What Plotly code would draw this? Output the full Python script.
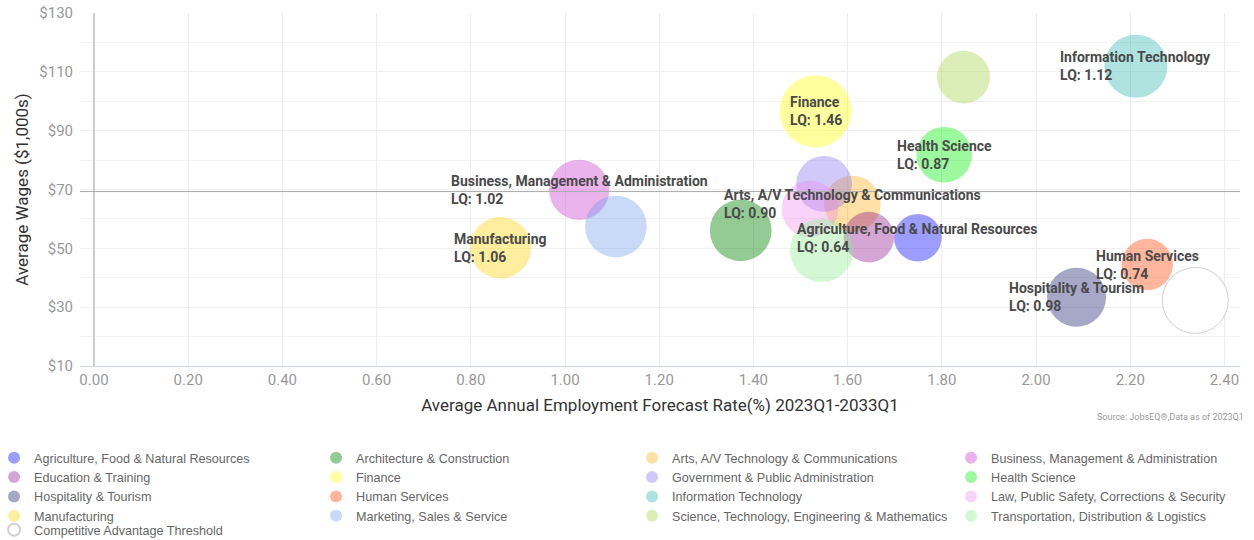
import plotly.graph_objects as go

clusters = [
    "Agriculture, Food & Natural Resources", "Architecture & Construction",
    "Arts, A/V Technology & Communications", "Business, Management & Administration",
    "Education & Training", "Finance", "Government & Public Administration",
    "Health Science", "Hospitality & Tourism", "Human Services",
    "Information Technology", "Law, Public Safety, Corrections & Security",
    "Manufacturing", "Marketing, Sales & Service",
    "Science, Technology, Engineering & Mathematics",
    "Transportation, Distribution & Logistics",
]
forecast_rate = [1.749, 1.373, 1.610, 1.030, 1.645, 1.532, 1.550, 1.805, 2.086, 2.236,
                 2.212, 1.520, 0.863, 1.108, 1.846, 1.545]
avg_wages = [53.6, 56.1, 65.1, 69.9, 53.8, 96.6, 71.9, 81.8, 33.4, 44.5,
             111.9, 63.4, 50.2, 57.4, 108.2, 49.3]
lq = [0.64, 1.07, 0.90, 1.02, 0.72, 1.46, 0.88, 0.87, 0.98, 0.74,
      1.12, 0.90, 1.06, 1.07, 0.79, 1.13]
show_label = [True, False, True, True, False, True, False, True, True, True,
              True, False, True, False, False, False]

threshold_name = "Competitive Advantage Threshold"
threshold_x = 2.338
threshold_y = 32.3
wage_threshold = 69.3
rate_threshold = 0.0

y_ticks = [10, 30, 50, 70, 90, 110, 130]
y_tick_labels = ["$10", "$30", "$50", "$70", "$90", "$110", "$130"]
x_ticks = [0.0, 0.2, 0.4, 0.6, 0.8, 1.0, 1.2, 1.4, 1.6, 1.8, 2.0, 2.2, 2.4]

colors = [
    "rgba(0,0,255,0.55)", "rgba(0,128,0,0.6)", "rgba(255,165,0,0.5)",
    "rgba(210,80,210,0.62)", "rgba(128,0,128,0.5)", "rgba(255,255,0,0.55)",
    "rgba(123,104,238,0.5)", "rgba(0,240,0,0.55)", "rgba(25,25,112,0.55)",
    "rgba(255,80,20,0.6)", "rgba(32,178,170,0.52)", "rgba(238,130,238,0.5)",
    "rgba(255,210,0,0.55)", "rgba(100,149,237,0.5)", "rgba(154,205,50,0.5)",
    "rgba(144,238,144,0.55)",
]

SIZEREF = 0.000563
FONT = "Roboto, Arial, sans-serif"
N_LEGEND_COLS = 4

fig = go.Figure()
for i, name in enumerate(clusters):
    fig.add_trace(go.Scatter(
        x=[forecast_rate[i]], y=[avg_wages[i]], mode="markers", name=name,
        legend="legend" if i % N_LEGEND_COLS == 0 else f"legend{i % N_LEGEND_COLS + 1}",
        marker=dict(size=[lq[i]], sizemode="area", sizeref=SIZEREF,
                    color=colors[i], line=dict(width=0)),
        hovertemplate=f"{name}<br>LQ: {lq[i]:.2f}<extra></extra>",
    ))

fig.add_trace(go.Scatter(
    x=[threshold_x], y=[threshold_y], mode="markers", name=threshold_name,
    legend="legend5",
    marker=dict(size=66, color="rgba(255,255,255,1)", line=dict(width=1, color="#d0d0d0")),
))

annotations = []
for i, name in enumerate(clusters):
    if show_label[i]:
        annotations.append(dict(
            x=forecast_rate[i], y=avg_wages[i], xref="x", yref="y",
            text=f"{name}<br>LQ: {lq[i]:.2f}", showarrow=False,
            xanchor="center", yanchor="middle", align="left",
            font=dict(family=FONT, size=14, color="#4a4a4a", weight="bold"),
        ))
annotations.append(dict(
    x=1.005, y=-0.145, xref="paper", yref="paper", xanchor="right", yanchor="middle",
    text="Source: JobsEQ®,Data as of 2023Q1", showarrow=False,
    font=dict(family=FONT, size=9, color="#999999"),
))

shapes = [
    dict(type="line", xref="x", yref="paper", x0=rate_threshold, x1=rate_threshold,
         y0=0, y1=1, line=dict(color="#cccccc", width=2), layer="above"),
    dict(type="line", xref="paper", yref="y", x0=0, x1=1,
         y0=wage_threshold, y1=wage_threshold, line=dict(color="#aaaaaa", width=1),
         layer="above"),
]

legend_font = dict(family="Liberation Sans, Arial, sans-serif", size=12.6, color="#666666")
legend_x = [-0.0741, 0.2035, 0.4759, 0.7509]
legend_common = dict(orientation="v", xanchor="left", yanchor="top",
                     itemsizing="constant", font=legend_font, traceorder="normal",
                     bgcolor="rgba(0,0,0,0)")

fig.update_layout(
    width=1254, height=540,
    margin=dict(l=80, r=14, t=13, b=174, autoexpand=False),
    paper_bgcolor="white", plot_bgcolor="white",
    font=dict(family=FONT),
    showlegend=True,
    legend=dict(x=legend_x[0], y=-0.2181, **legend_common),
    legend2=dict(x=legend_x[1], y=-0.2181, **legend_common),
    legend3=dict(x=legend_x[2], y=-0.2181, **legend_common),
    legend4=dict(x=legend_x[3], y=-0.2181, **legend_common),
    legend5=dict(x=legend_x[0], y=-0.4221, **legend_common),
    annotations=annotations,
    shapes=shapes,
    xaxis=dict(
        range=[-0.0297, 2.433], tickvals=x_ticks, tickformat=".2f",
        showgrid=True, gridcolor="#ececf3", gridwidth=1, zeroline=False,
        showline=True, linecolor="#ccd6eb", linewidth=1,
        tickfont=dict(size=15, color="#999999"),
        title=dict(text="Average Annual Employment Forecast Rate(%) 2023Q1-2033Q1",
                   font=dict(size=17, color="#333333"), standoff=11),
        automargin=False,
    ),
    yaxis=dict(
        range=[10, 130], tickvals=y_ticks, ticktext=y_tick_labels,
        showgrid=True, gridcolor="#f0f0f0", zeroline=False, showline=False,
        minor=dict(dtick=10, tick0=10, showgrid=True, gridcolor="#f3f3f3"),
        tickfont=dict(size=15, color="#999999"), ticklabelstandoff=6,
        title=dict(text="Average Wages ($1,000s)", font=dict(size=17, color="#333333"),
                   standoff=6),
        automargin=False,
    ),
)

fig.write_html("out.html")
